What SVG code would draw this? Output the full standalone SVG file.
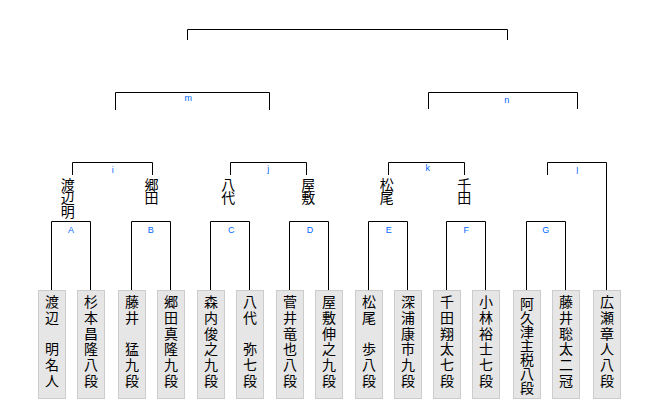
<svg xmlns="http://www.w3.org/2000/svg" width="660" height="400" viewBox="0 0 660 400">
<style>
  .bg{fill:#ffffff}
  .box{fill:#e6e6e6;stroke:#cccccc;stroke-width:1}
  .name{font-family:"Noto Sans CJK JP","Noto Sans CJK SC",sans-serif;font-size:14px;fill:#000000;text-anchor:middle}
  .lbl{font-family:"Liberation Sans",Arial,sans-serif;font-size:9px;fill:#0066ff;text-anchor:middle}
  .con{fill:none;stroke:#000000;stroke-width:1}
</style>
<rect class="bg" x="0" y="0" width="660" height="400"/>
<g id="connectors" class="con">
  <path d="M187.5,40 V29.5 H507.5 V40"/>
  <path d="M115.5,110 V92.5 H269.5 V110"/>
  <path d="M428.5,109 V92.5 H577.5 V109"/>
  <path d="M72.5,175 V162.5 H152.5 V175"/>
  <path d="M230.5,175 V162.5 H306.5 V175"/>
  <path d="M388.5,175 V162.5 H464.5 V175"/>
  <path d="M547.5,175 V162.5 H606.5 V290"/>
  <path d="M51.5,290 V221.5 H90.5 V290"/>
  <path d="M131.5,290 V221.5 H170.5 V290"/>
  <path d="M210.5,290 V221.5 H249.5 V290"/>
  <path d="M289.5,290 V221.5 H328.5 V290"/>
  <path d="M368.5,290 V221.5 H407.5 V290"/>
  <path d="M446.5,290 V221.5 H485.5 V290"/>
  <path d="M526.5,290 V221.5 H565.5 V290"/>
</g>
<g id="labels" class="lbl">
  <text x="188.3" y="101">m</text>
  <text x="506.7" y="103">n</text>
  <text x="112.7" y="173">i</text>
  <text x="268.3" y="172">j</text>
  <text x="427.7" y="171">k</text>
  <text x="577.3" y="174">l</text>
  <text x="71" y="233">A</text>
  <text x="150.7" y="233">B</text>
  <text x="231.3" y="233">C</text>
  <text x="310" y="233">D</text>
  <text x="388.7" y="233">E</text>
  <text x="466.3" y="233">F</text>
  <text x="545.7" y="233">G</text>
</g>
<g id="winner-watanabe" class="name"><text><tspan x="67.7" y="190">渡</tspan><tspan x="67.7" y="203.3">辺</tspan><tspan x="67.7" y="216.6">明</tspan></text></g>
<g id="winner-gouda" class="name"><text><tspan x="151.5" y="190">郷</tspan><tspan x="151.5" y="203.3">田</tspan></text></g>
<g id="winner-yashiro" class="name"><text><tspan x="228.3" y="190">八</tspan><tspan x="228.3" y="203.3">代</tspan></text></g>
<g id="winner-yashiki" class="name"><text><tspan x="308.3" y="190">屋</tspan><tspan x="308.3" y="203.3">敷</tspan></text></g>
<g id="winner-matsuo" class="name"><text><tspan x="386.7" y="190">松</tspan><tspan x="386.7" y="203.3">尾</tspan></text></g>
<g id="winner-senda" class="name"><text><tspan x="464.3" y="190">千</tspan><tspan x="464.3" y="203.3">田</tspan></text></g>

<g id="p1"><rect class="box" x="38.5" y="290.5" width="27" height="108"/><text class="name"><tspan x="52" y="307">渡</tspan><tspan x="52" y="322.8">辺</tspan><tspan x="52" y="338.6">　</tspan><tspan x="52" y="354.4">明</tspan><tspan x="52" y="370.2">名</tspan><tspan x="52" y="386">人</tspan></text></g>
<g id="p2"><rect class="box" x="77.5" y="290.5" width="27" height="108"/><text class="name"><tspan x="91" y="307">杉</tspan><tspan x="91" y="322.8">本</tspan><tspan x="91" y="338.6">昌</tspan><tspan x="91" y="354.4">隆</tspan><tspan x="91" y="370.2">八</tspan><tspan x="91" y="386">段</tspan></text></g>
<g id="p3"><rect class="box" x="118.5" y="290.5" width="27" height="108"/><text class="name"><tspan x="132" y="307">藤</tspan><tspan x="132" y="322.8">井</tspan><tspan x="132" y="338.6">　</tspan><tspan x="132" y="354.4">猛</tspan><tspan x="132" y="370.2">九</tspan><tspan x="132" y="386">段</tspan></text></g>
<g id="p4"><rect class="box" x="157.5" y="290.5" width="27" height="108"/><text class="name"><tspan x="171" y="307">郷</tspan><tspan x="171" y="322.8">田</tspan><tspan x="171" y="338.6">真</tspan><tspan x="171" y="354.4">隆</tspan><tspan x="171" y="370.2">九</tspan><tspan x="171" y="386">段</tspan></text></g>
<g id="p5"><rect class="box" x="197.5" y="290.5" width="27" height="108"/><text class="name"><tspan x="211" y="307">森</tspan><tspan x="211" y="322.8">内</tspan><tspan x="211" y="338.6">俊</tspan><tspan x="211" y="354.4">之</tspan><tspan x="211" y="370.2">九</tspan><tspan x="211" y="386">段</tspan></text></g>
<g id="p6"><rect class="box" x="236.5" y="290.5" width="27" height="108"/><text class="name"><tspan x="250" y="307">八</tspan><tspan x="250" y="322.8">代</tspan><tspan x="250" y="338.6">　</tspan><tspan x="250" y="354.4">弥</tspan><tspan x="250" y="370.2">七</tspan><tspan x="250" y="386">段</tspan></text></g>
<g id="p7"><rect class="box" x="276.5" y="290.5" width="27" height="108"/><text class="name"><tspan x="290" y="307">菅</tspan><tspan x="290" y="322.8">井</tspan><tspan x="290" y="338.6">竜</tspan><tspan x="290" y="354.4">也</tspan><tspan x="290" y="370.2">八</tspan><tspan x="290" y="386">段</tspan></text></g>
<g id="p8"><rect class="box" x="315.5" y="290.5" width="27" height="108"/><text class="name"><tspan x="329" y="307">屋</tspan><tspan x="329" y="322.8">敷</tspan><tspan x="329" y="338.6">伸</tspan><tspan x="329" y="354.4">之</tspan><tspan x="329" y="370.2">九</tspan><tspan x="329" y="386">段</tspan></text></g>
<g id="p9"><rect class="box" x="355.5" y="290.5" width="27" height="108"/><text class="name"><tspan x="369" y="307">松</tspan><tspan x="369" y="322.8">尾</tspan><tspan x="369" y="338.6">　</tspan><tspan x="369" y="354.4">歩</tspan><tspan x="369" y="370.2">八</tspan><tspan x="369" y="386">段</tspan></text></g>
<g id="p10"><rect class="box" x="394.5" y="290.5" width="27" height="108"/><text class="name"><tspan x="408" y="307">深</tspan><tspan x="408" y="322.8">浦</tspan><tspan x="408" y="338.6">康</tspan><tspan x="408" y="354.4">市</tspan><tspan x="408" y="370.2">九</tspan><tspan x="408" y="386">段</tspan></text></g>
<g id="p11"><rect class="box" x="433.5" y="290.5" width="27" height="108"/><text class="name"><tspan x="447" y="307">千</tspan><tspan x="447" y="322.8">田</tspan><tspan x="447" y="338.6">翔</tspan><tspan x="447" y="354.4">太</tspan><tspan x="447" y="370.2">七</tspan><tspan x="447" y="386">段</tspan></text></g>
<g id="p12"><rect class="box" x="472.5" y="290.5" width="27" height="108"/><text class="name"><tspan x="486" y="307">小</tspan><tspan x="486" y="322.8">林</tspan><tspan x="486" y="338.6">裕</tspan><tspan x="486" y="354.4">士</tspan><tspan x="486" y="370.2">七</tspan><tspan x="486" y="386">段</tspan></text></g>
<g id="p13"><rect class="box" x="513.5" y="290.5" width="27" height="108"/><text class="name"><tspan x="527" y="309">阿</tspan><tspan x="527" y="323">久</tspan><tspan x="527" y="337">津</tspan><tspan x="527" y="351">主</tspan><tspan x="527" y="365">税</tspan><tspan x="527" y="379">八</tspan><tspan x="527" y="393">段</tspan></text></g>
<g id="p14"><rect class="box" x="552.5" y="290.5" width="27" height="108"/><text class="name"><tspan x="566" y="307">藤</tspan><tspan x="566" y="322.8">井</tspan><tspan x="566" y="338.6">聡</tspan><tspan x="566" y="354.4">太</tspan><tspan x="566" y="370.2">二</tspan><tspan x="566" y="386">冠</tspan></text></g>
<g id="p15"><rect class="box" x="593.5" y="290.5" width="27" height="108"/><text class="name"><tspan x="607" y="307">広</tspan><tspan x="607" y="322.8">瀬</tspan><tspan x="607" y="338.6">章</tspan><tspan x="607" y="354.4">人</tspan><tspan x="607" y="370.2">八</tspan><tspan x="607" y="386">段</tspan></text></g>
</svg>
